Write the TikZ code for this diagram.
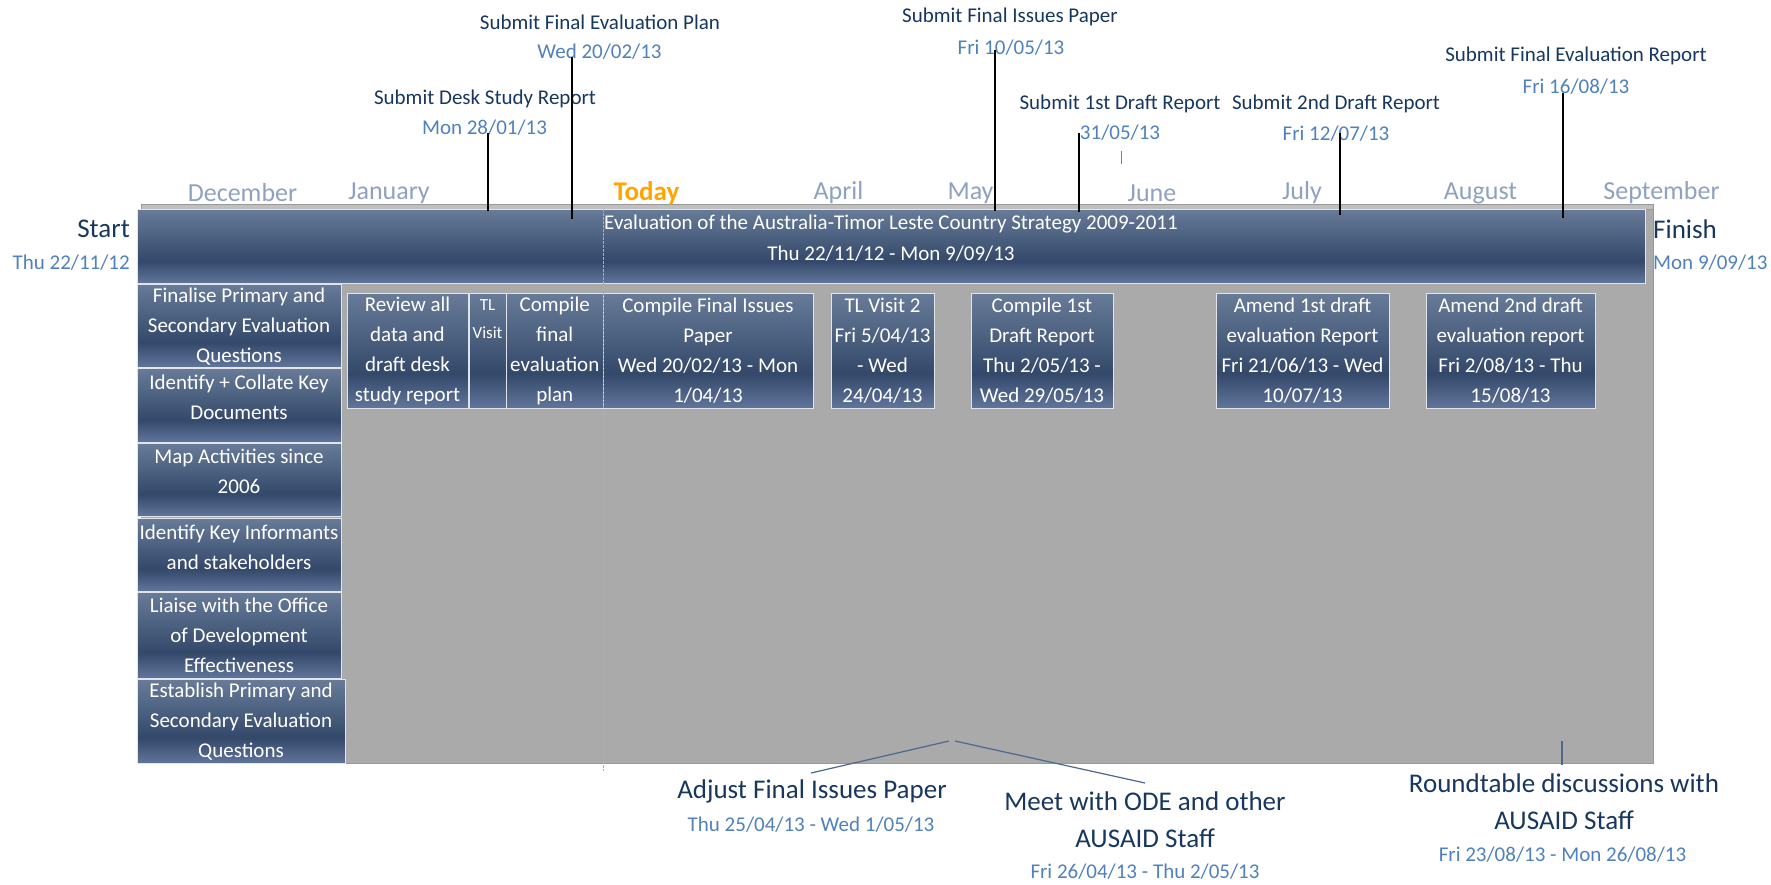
\documentclass[tikz,border=0pt]{standalone}
\usepackage{fontspec}
\setmainfont{Carlito}
\usetikzlibrary{fit}
\definecolor{navy}{HTML}{17375E}
\definecolor{dateblue}{HTML}{4F81BD}
\definecolor{monthc}{HTML}{8EA2BF}
\definecolor{todayc}{HTML}{FFA500}
\definecolor{bxtop}{HTML}{687C99}
\definecolor{bxdark}{HTML}{34486A}
\definecolor{bxbot}{HTML}{60759A}
\definecolor{panelc}{HTML}{AAAAAA}
\definecolor{panelline}{HTML}{999999}
\definecolor{stripc}{HTML}{C0C0C0}
\definecolor{connc}{HTML}{4A6890}
\pgfdeclareverticalshading{boxsh}{100bp}{color(0bp)=(bxbot); color(25bp)=(bxbot); color(40bp)=(bxdark); color(75bp)=(bxtop); color(100bp)=(bxtop)}
\tikzset{
  lbl/.style={inner sep=0, text=navy, font=\fontsize{21}{25}\selectfont, align=center},
  dat/.style={inner sep=0, text=dateblue, font=\fontsize{21}{25}\selectfont, align=center},
  mon/.style={inner sep=0, text=monthc, font=\fontsize{26}{30}\selectfont},
  todaylbl/.style={inner sep=0, text=todayc, font=\fontsize{27}{30}\selectfont\bfseries},
  biglbl/.style={inner sep=0, text=navy, font=\fontsize{27}{37}\selectfont, align=center},
  tbox/.style={inner sep=0, shading=boxsh, draw=white!80!bxtop, line width=1pt},
  wtxt/.style={inner sep=0, text=white, font=\fontsize{21}{30}\selectfont, align=center},
  wsmall/.style={inner sep=0, text=white, font=\fontsize{17}{28}\selectfont, align=center},
  panelbox/.style={inner sep=0, fill=panelc, draw=panelline, line width=1pt},
  stripbox/.style={inner sep=0, fill=stripc, draw=panelline, line width=1pt},
  msline/.style={draw=black, line width=2.2pt},
  conn/.style={draw=connc, line width=1.2pt},
  todayline/.style={draw=todayc, line width=1pt, dash pattern=on 3pt off 1pt},
  tick/.style={draw=gray, line width=1pt}
}
\begin{document}
\begin{tikzpicture}[x=1pt,y=-1pt]
\useasboundingbox (0,0) rectangle (1771,884);

% background panel
\node[panelbox, fit={(141,204) (1653,763)}] (panel) {};
\node[stripbox, fit={(141,204) (1653,209)}] (strip) {};

% months
\node[mon] (dec) at (242.5,193) {December};
\node[mon] (jan) at (389,193) {January};
\node[todaylbl] (today) at (646.5,193) {Today};
\node[mon] (apr) at (838.5,193) {April};
\node[mon] (may) at (970.5,193) {May};
\node[mon] (jun) at (1152,193) {June};
\node[mon] (jul) at (1302,193) {July};
\node[mon] (aug) at (1480.5,193) {August};
\node[mon] (sep) at (1661.5,193) {September};

% main bar
\node[tbox, fit={(137,209) (1645,283)}] (bar) {};
\node[wtxt, font=\fontsize{21}{31}\selectfont] (bartxt) at (891,238.5) {Evaluation of the Australia-Timor Leste Country Strategy 2009-2011\\Thu 22/11/12 - Mon 9/09/13};

% start / finish
\node[biglbl, anchor=east] (start) at (130,229) {Start};
\node[dat, anchor=east] (startd) at (130,263) {Thu 22/11/12};
\node[biglbl, anchor=west] (finish) at (1653,229) {Finish};
\node[dat, anchor=west] (finishd) at (1653,263) {Mon 9/09/13};

% left column tasks
\node[tbox, fit={(137,284) (341,367)}] (L1) {};
\node[wtxt] (L1t) at (239,327) {Finalise Primary and\\Secondary Evaluation\\Questions};
\node[tbox, fit={(137,368) (341,442)}] (L2) {};
\node[wtxt] (L2t) at (239,397.5) {Identify + Collate Key\\Documents};
\node[tbox, fit={(137,443) (341,516)}] (L3) {};
\node[wtxt] (L3t) at (239,471.5) {Map Activities since\\2006};
\node[tbox, fit={(137,518) (341,591)}] (L4) {};
\node[wtxt] (L4t) at (239,547) {Identify Key Informants\\and stakeholders};
\node[tbox, fit={(137,592) (341,678)}] (L5) {};
\node[wtxt] (L5t) at (239,635.5) {Liaise with the Office\\of Development\\Effectiveness};
\node[tbox, fit={(137,679) (345,763)}] (L6) {};
\node[wtxt] (L6t) at (241,722) {Establish Primary and\\Secondary Evaluation\\Questions};

% task row
\node[tbox, fit={(347,293) (468,408)}] (R1) {};
\node[wtxt] (R1t) at (R1.center) {Review all\\data and\\draft desk\\study report};
\node[tbox, fit={(469,293) (506,408)}] (R2) {};
\node[wsmall] (R2t) at (487.5,319) {TL\\Visit};
\node[tbox, fit={(506.5,293) (603,408)}] (R3) {};
\node[wtxt] (R3t) at (R3.center) {Compile\\final\\evaluation\\plan};
\node[tbox, fit={(603,293) (813,408)}] (R4) {};
\node[wtxt] (R4t) at (R4.center) {Compile Final Issues\\Paper\\Wed 20/02/13 - Mon\\1/04/13};
\node[tbox, fit={(831,293) (934,408)}] (R5) {};
\node[wtxt] (R5t) at (R5.center) {TL Visit 2\\Fri 5/04/13\\- Wed\\24/04/13};
\node[tbox, fit={(971,293) (1113,408)}] (R6) {};
\node[wtxt] (R6t) at (R6.center) {Compile 1st\\Draft Report\\Thu 2/05/13 -\\Wed 29/05/13};
\node[tbox, fit={(1216,293) (1389,408)}] (R7) {};
\node[wtxt] (R7t) at (R7.center) {Amend 1st draft\\evaluation Report\\Fri 21/06/13 - Wed\\10/07/13};
\node[tbox, fit={(1426,293) (1595,408)}] (R8) {};
\node[wtxt] (R8t) at (R8.center) {Amend 2nd draft\\evaluation report\\Fri 2/08/13 - Thu\\15/08/13};

% milestones
\node[lbl] (m1) at (485,99) {Submit Desk Study Report};
\node[dat] (m1d) at (484.5,128) {Mon 28/01/13};
\node[lbl] (m2) at (600,22) {Submit Final Evaluation Plan};
\node[dat] (m2d) at (599.5,52) {Wed 20/02/13};
\node[lbl] (m3) at (1010,17) {Submit Final Issues Paper};
\node[dat] (m3d) at (1011,48) {Fri 10/05/13};
\node[lbl] (m4) at (1120,104) {Submit 1st Draft Report};
\node[dat] (m4d) at (1120,133) {31/05/13};
\node[lbl] (m5) at (1336,104) {Submit 2nd Draft Report};
\node[dat] (m5d) at (1336,134) {Fri 12/07/13};
\node[lbl] (m6) at (1576,56) {Submit Final Evaluation Report};
\node[dat] (m6d) at (1576,87) {Fri 16/08/13};

\coordinate (m1a) at (488,133);  \coordinate (m1b) at (488,211);
\coordinate (m2a) at (572,57);   \coordinate (m2b) at (572,219);
\coordinate (m3a) at (995,50);   \coordinate (m3b) at (995,211);
\coordinate (m4a) at (1079,133); \coordinate (m4b) at (1079,212);
\coordinate (m5a) at (1340,133); \coordinate (m5b) at (1340,215);
\coordinate (m6a) at (1563,93);  \coordinate (m6b) at (1563,218);
\draw[msline] (m1a) -- (m1b);
\draw[msline] (m2a) -- (m2b);
\draw[msline] (m3a) -- (m3b);
\draw[msline] (m4a) -- (m4b);
\draw[msline] (m5a) -- (m5b);
\draw[msline] (m6a) -- (m6b);
\coordinate (junA) at (1121,151); \coordinate (junB) at (1121,164);
\draw[tick] (junA) -- (junB);

% bottom callouts
\node[biglbl] (adj) at (812,791) {Adjust Final Issues Paper};
\node[dat] (adjd) at (811,825) {Thu 25/04/13 - Wed 1/05/13};
\node[biglbl] (meet) at (1145,819.5) {Meet with ODE and other\\AUSAID Staff};
\node[dat] (meetd) at (1145,872) {Fri 26/04/13 - Thu 2/05/13};
\node[biglbl] (round) at (1564,801.5) {Roundtable discussions with\\AUSAID Staff};
\node[dat] (roundd) at (1562.5,855) {Fri 23/08/13 - Mon 26/08/13};

\coordinate (adjP) at (949,741);  \coordinate (adjE) at (811,773);
\coordinate (meetP) at (955,741); \coordinate (meetE) at (1145,783);
\coordinate (roundP) at (1562,741); \coordinate (roundE) at (1562,765);
\draw[conn] (adjP) -- (adjE);
\draw[conn] (meetP) -- (meetE);
\draw[conn] (roundP) -- (roundE);

% today line
\coordinate (todayTop) at (603,209);
\coordinate (todayBot) at (603,771);
\draw[todayline] (todayTop) -- (todayBot);
\end{tikzpicture}
\end{document}
